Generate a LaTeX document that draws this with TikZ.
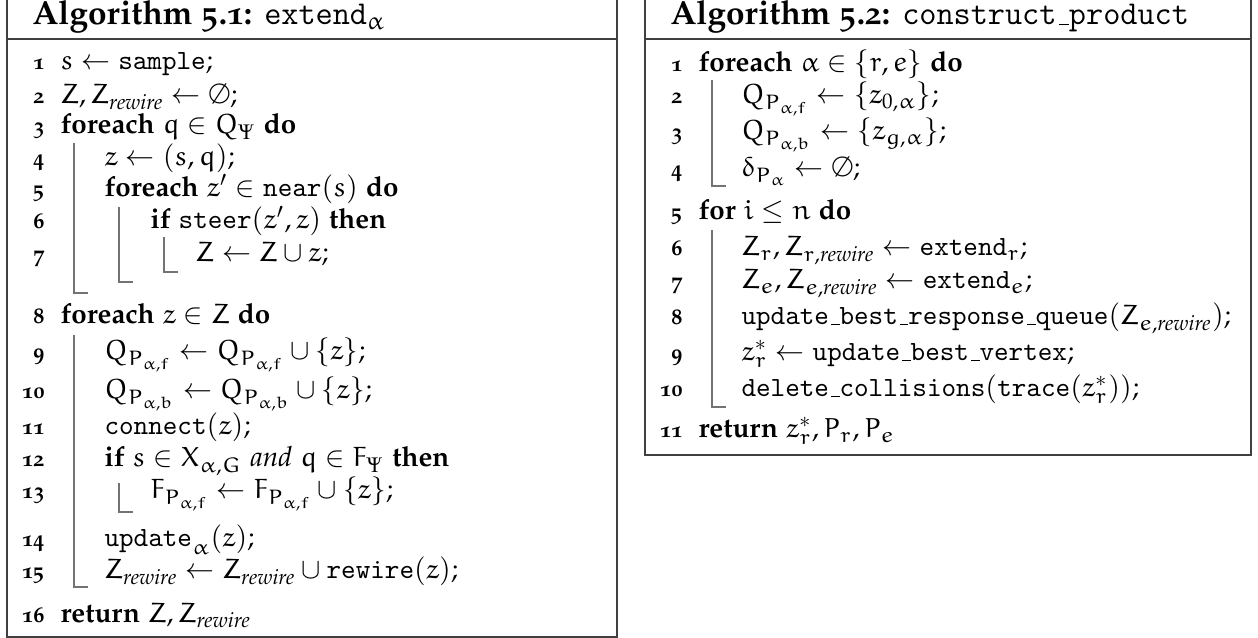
\documentclass[tikz,border=0pt]{standalone}
\usepackage[T1]{fontenc}
\usepackage[osf,sc]{mathpazo}
\DeclareSymbolFont{letters}{U}{eur}{m}{n}
\SetSymbolFont{letters}{bold}{U}{eur}{b}{n}
\usepackage{tikz}
\usetikzlibrary{positioning}
\tikzset{
  algframe/.style = {draw=black!75, line width=0.6pt},
  blockbar/.style = {draw=black!55, line width=0.5pt},
  lnum/.style     = {anchor=base east, inner sep=0pt, font=\footnotesize\bfseries},
  codeline/.style = {anchor=base west, inner sep=0pt},
  algtitle/.style = {anchor=base west, inner sep=0pt, font=\large},
}
\newcommand{\tw}[1]{\mbox{\fontencoding{OT1}\fontfamily{cmtt}\selectfont #1}}
\newcommand{\us}{\kern.06em\vbox{\hrule width.3em}}
\newcommand{\rw}{\mathit{rewire}}

\begin{document}
\begin{tikzpicture}[x=0.36pt, y=-0.36pt]
  \useasboundingbox (0,0) rectangle (1258,638);
  % extend
  \draw[algframe] (7,0) -- (7,637) -- (617,637) -- (617,0);
  \draw[algframe] (7,39) -- (617,39);
  \node[algtitle] (ta) at (32,25) {\textbf{Algorithm 5.1:} \tw{extend}$_\alpha$};
  \foreach \n/\y in {1/70, 2/104, 3/134, 4/166, 5/197, 6/229, 7/262, 8/324,
                     9/360, 10/399, 11/435, 12/467, 13/499, 14/547, 15/579, 16/622}
    \node[lnum] (a\n) at (45,\y) {\n};
  \node[codeline] (ca1) at (60,70) {$s \gets \tw{sample}$;};
  \node[codeline] (ca2) at (60,104) {$Z, Z_{\rw} \gets \emptyset$;};
  \node[codeline] (ca3) at (60,134) {\textbf{foreach} $q \in Q_\Psi$ \textbf{do}};
  \node[codeline] (ca4) at (104,166) {$z \gets (s,q)$;};
  \node[codeline] (ca5) at (104,197) {\textbf{foreach} $z' \in \tw{near}(s)$ \textbf{do}};
  \node[codeline] (ca6) at (150,229) {\textbf{if} $\tw{steer}(z',z)$ \textbf{then}};
  \node[codeline] (ca7) at (195,262) {$Z \gets Z \cup z$;};
  \node[codeline] (ca8) at (60,324) {\textbf{foreach} $z \in Z$ \textbf{do}};
  \node[codeline] (ca9) at (104,360) {$Q_{P_{\alpha,f}} \gets Q_{P_{\alpha,f}} \cup \{z\}$;};
  \node[codeline] (ca10) at (104,399) {$Q_{P_{\alpha,b}} \gets Q_{P_{\alpha,b}} \cup \{z\}$;};
  \node[codeline] (ca11) at (104,435) {$\tw{connect}(z)$;};
  \node[codeline] (ca12) at (104,467) {\textbf{if} $s \in X_{\alpha,G}$ \textit{and} $q \in F_\Psi$ \textbf{then}};
  \node[codeline] (ca13) at (150,499) {$F_{P_{\alpha,f}} \gets F_{P_{\alpha,f}} \cup \{z\}$;};
  \node[codeline] (ca14) at (104,547) {$\tw{update}_\alpha(z)$;};
  \node[codeline] (ca15) at (104,579) {$Z_{\rw} \gets Z_{\rw} \cup \tw{rewire}(z)$;};
  \node[codeline] (ca16) at (60,622) {\textbf{return} $Z, Z_{\rw}$};
  \draw[blockbar] (74,143) -- (74,293) -- (88,293);
  \draw[blockbar] (119,207) -- (119,282) -- (133,282);
  \draw[blockbar] (164,237) -- (164,272) -- (178,272);
  \draw[blockbar] (74,335) -- (74,587) -- (88,587);
  \draw[blockbar] (119,483) -- (119,512) -- (133,512);

  % construct_product
  \draw[algframe] (645,0) -- (645,455) -- (1251,455) -- (1251,0);
  \draw[algframe] (645,39) -- (1251,39);
  \node[algtitle] (tb) at (670,25) {\textbf{Algorithm 5.2:} \tw{construct\us product}};
  \foreach \n/\y in {1/72, 2/104, 3/140, 4/177, 5/220, 6/256, 7/289, 8/325,
                     9/361, 10/397, 11/438}
    \node[lnum] (b\n) at (683,\y) {\n};
  \node[codeline] (cb1) at (698,72) {\textbf{foreach} $\alpha \in \{r,e\}$ \textbf{do}};
  \node[codeline] (cb2) at (741,104) {$Q_{P_{\alpha,f}} \gets \{z_{0,\alpha}\}$;};
  \node[codeline] (cb3) at (741,140) {$Q_{P_{\alpha,b}} \gets \{z_{g,\alpha}\}$;};
  \node[codeline] (cb4) at (741,177) {$\delta_{P_\alpha} \gets \emptyset$;};
  \node[codeline] (cb5) at (698,220) {\textbf{for} $i \le n$ \textbf{do}};
  \node[codeline] (cb6) at (741,256) {$Z_r, Z_{r,\rw} \gets \tw{extend}_r$;};
  \node[codeline] (cb7) at (741,289) {$Z_e, Z_{e,\rw} \gets \tw{extend}_e$;};
  \node[codeline] (cb8) at (741,325) {\tw{update\us best\us response\us queue}$(Z_{e,\rw})$;};
  \node[codeline] (cb9) at (741,361) {$z_r^* \gets \tw{update\us best\us vertex}$;};
  \node[codeline] (cb10) at (741,397) {\tw{delete\us collisions}$(\tw{trace}(z_r^*))$;};
  \node[codeline] (cb11) at (698,438) {\textbf{return} $z_r^*, P_r, P_e$};
  \draw[blockbar] (712,80) -- (712,186) -- (726,186);
  \draw[blockbar] (712,230) -- (712,407) -- (726,407);
\end{tikzpicture}
\end{document}
